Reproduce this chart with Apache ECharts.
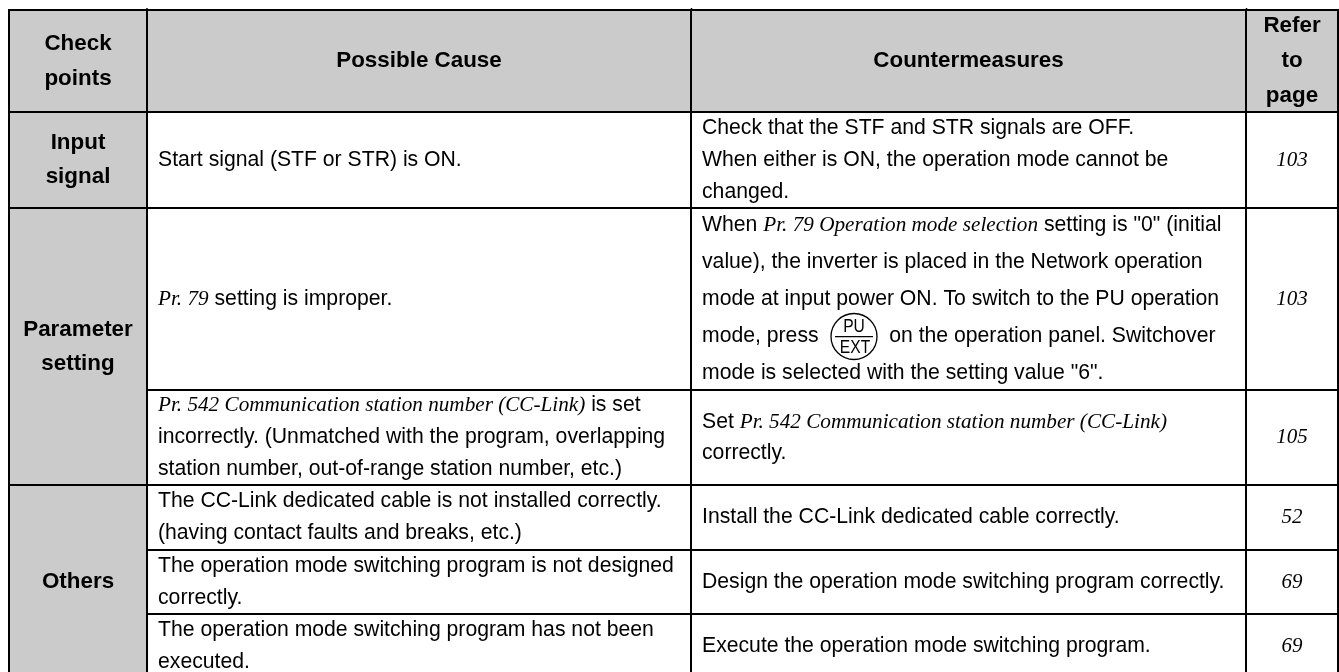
<!DOCTYPE html>
<html>
<head>
<meta charset="utf-8">
<style>
html, body { margin: 0; padding: 0; background: #fff; }
#main { width: 1339px; height: 672px; }
</style>
<script src="https://cdn.jsdelivr.net/npm/echarts@6/dist/echarts.min.js"></script>
</head>
<body>
<div id="main"></div>
<script>
// table contents, {i|...} marks the italic serif runs
var headers = ['Check\npoints', 'Possible Cause', 'Countermeasures', 'Refer\nto\npage'];
var groups = ['Input\nsignal', 'Parameter\nsetting', 'Others'];
var causes = [
   'Start signal (STF or STR) is ON.',
   '{i|Pr. 79} setting is improper.',
   '{i|Pr. 542 Communication station number (CC-Link)} is set\nincorrectly. (Unmatched with the program, overlapping\nstation number, out-of-range station number, etc.)',
   'The CC-Link dedicated cable is not installed correctly.\n(having contact faults and breaks, etc.)',
   'The operation mode switching program is not designed\ncorrectly.',
   'The operation mode switching program has not been\nexecuted.'
];
var measures = [
   'Check that the STF and STR signals are OFF.\nWhen either is ON, the operation mode cannot be\nchanged.',
   'When {i|Pr. 79 Operation mode selection} setting is "0" (initial\nvalue), the inverter is placed in the Network operation\nmode at input power ON. To switch to the PU operation\nmode, press            on the operation panel. Switchover\nmode is selected with the setting value "6".',
   'Set {i|Pr. 542 Communication station number (CC-Link)}\ncorrectly.',
   'Install the CC-Link dedicated cable correctly.',
   'Design the operation mode switching program correctly.',
   'Execute the operation mode switching program.'
];
var pages = ['103', '103', '105', '52', '69', '69'];
// row number each group starts and ends on
var groupRows = [[1, 1], [2, 3], [4, 6]];

// table layout in px
var colWidths = [138.5, 544, 555, 91];
var rowHeights = [102, 96, 182, 95, 65, 64, 64];
var lineHeights = [32, 37, 31, 32, 32, 32];

var sans = '"Liberation Sans", Arial, sans-serif';
var serif = '"Liberation Serif", "Times New Roman", serif';
var grey = '#cbcbcb';

function boldLabel(lh) {
   return {
      fontFamily: sans, fontWeight: 'bold', fontSize: 22.4, color: '#000',
      lineHeight: lh, align: 'center', verticalAlign: 'middle', overflow: 'none', lineOverflow: 'none'
   };
}
function leftLabel(lh, text) {
   var label = {
      position: 'insideLeft', distance: 8, align: 'left', verticalAlign: 'middle',
      fontFamily: sans, fontSize: 21.2, color: '#000', lineHeight: lh, overflow: 'none', lineOverflow: 'none'
   };
   // rich text sits at the top of a fixed box, so shrink the box to the text
   if (text.indexOf('{i|') >= 0) {
      label.height = text.split('\n').length * lh;
      label.rich = { i: { fontFamily: serif, fontStyle: 'italic', fontSize: 21.2, color: '#000', lineHeight: lh } };
   }
   return label;
}

var cells = [];
headers.forEach(function (h, c) {
   cells.push({
      coord: [c, 0], value: h,
      itemStyle: { color: grey },
      label: boldLabel(35)
   });
});
groups.forEach(function (g, i) {
   cells.push({
      coord: [0, groupRows[i]], mergeCells: true, value: g,
      itemStyle: { color: grey },
      label: boldLabel(34)
   });
});
causes.forEach(function (t, i) {
   cells.push({ coord: [1, i + 1], value: t, label: leftLabel(32, t) });
});
measures.forEach(function (t, i) {
   cells.push({ coord: [2, i + 1], value: t, label: leftLabel(lineHeights[i], t) });
});
pages.forEach(function (t, i) {
   cells.push({
      coord: [3, i + 1], value: t,
      label: { fontFamily: serif, fontStyle: 'italic', fontSize: 21, color: '#000', overflow: 'none' }
   });
});

var chart = echarts.init(document.getElementById('main'));
chart.setOption({
   animation: false,
   matrix: {
      left: 8.5,
      top: 10,
      width: 1329,
      height: 668,
      x: { show: false, data: colWidths.map(function (w, i) { return { value: 'c' + i, size: w }; }) },
      y: { show: false, data: rowHeights.map(function (h, i) { return { value: 'r' + i, size: h }; }) },
      body: {
         data: cells,
         itemStyle: { color: '#fff', borderColor: '#000', borderWidth: 2 }
      },
      backgroundStyle: { borderWidth: 0 }
   },
   // the PU/EXT key in the text and the tick marks over the header
   graphic: [
      { type: 'line', shape: { x1: 147, y1: 8, x2: 147, y2: 11 }, style: { stroke: '#000', lineWidth: 1.5 } },
      { type: 'line', shape: { x1: 691.5, y1: 8, x2: 691.5, y2: 11 }, style: { stroke: '#000', lineWidth: 1.5 } },
      { type: 'line', shape: { x1: 1246.5, y1: 8, x2: 1246.5, y2: 11 }, style: { stroke: '#000', lineWidth: 1.5 } },
      { type: 'circle', shape: { cx: 854, cy: 336.5, r: 23 }, style: { fill: 'none', stroke: '#000', lineWidth: 1.3 } },
      { type: 'line', shape: { x1: 835, y1: 336.7, x2: 873, y2: 336.7 }, style: { stroke: '#000', lineWidth: 1.3 } },
      { type: 'text', x: 854, y: 326.5, scaleX: 0.82, style: { x: 0, y: 0, text: 'PU', align: 'center', verticalAlign: 'middle', font: '19px ' + sans, fill: '#000' } },
      { type: 'text', x: 855, y: 347.5, scaleX: 0.82, style: { x: 0, y: 0, text: 'EXT', align: 'center', verticalAlign: 'middle', font: '19px ' + sans, fill: '#000' } }
   ]
});
</script>
</body>
</html>
